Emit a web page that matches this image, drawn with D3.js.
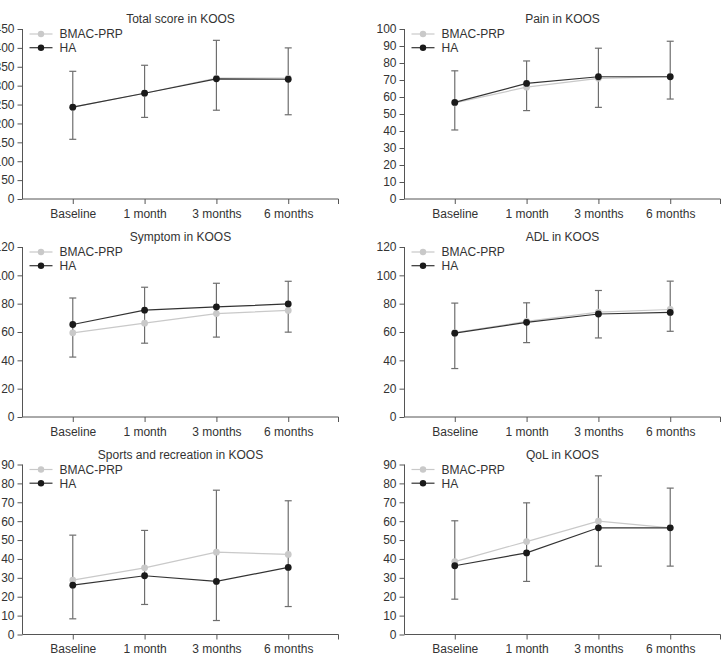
<!DOCTYPE html>
<html><head><meta charset="utf-8">
<script src="https://cdn.jsdelivr.net/npm/d3@7"></script>
<style>
html,body{margin:0;padding:0;background:#fff;}
svg{display:block;font-family:"Liberation Sans",Arial,sans-serif;}
</style></head>
<body>
<svg id="chart" width="726" height="655"></svg>
<script>
const categories = ["Baseline", "1 month", "3 months", "6 months"];
const seriesNames = ["BMAC-PRP", "HA"];
const titles = ["Total score in KOOS", "Pain in KOOS", "Symptom in KOOS", "ADL in KOOS", "Sports and recreation in KOOS", "QoL in KOOS"];
const yMax = [450, 100, 120, 120, 90, 90];
const yStep = [50, 10, 20, 20, 10, 10];

const bmacValues = [
  [243, 280, 320, 320],
  [56.5, 65.8, 71, 72],
  [59.4, 66.2, 73, 75.2],
  [59.5, 67.5, 74, 75.9],
  [28.8, 35.3, 43.6, 42.4],
  [38.6, 49.2, 60, 56.5]
];
const haValues = [
  [243, 280, 318, 317],
  [56.8, 68, 71.9, 71.9],
  [65.3, 75.4, 77.7, 79.8],
  [59.2, 66.8, 72.7, 73.8],
  [26.1, 31.1, 28.1, 35.5],
  [36.4, 43.2, 56.5, 56.5]
];
const errHigh = [
  [338, 354, 420, 400],
  [75.4, 81.2, 88.7, 92.8],
  [84, 91.6, 94.4, 95.8],
  [80.4, 80.6, 89.3, 95.9],
  [52.6, 55.1, 76.4, 70.8],
  [60.2, 69.7, 84, 77.5]
];
const errLow = [
  [158, 216, 235, 223],
  [40.6, 52, 53.9, 58.8],
  [42.3, 52.1, 56.4, 59.9],
  [34.2, 52.5, 55.8, 60.5],
  [8.3, 15.9, 7.4, 14.8],
  [18.7, 28.1, 36.2, 36.2]
];

const svg = d3.select("#chart");
const W = 316, H = 170;
const colX = [22.5, 404.5];
const rowY = [29, 247, 464.5];
const axisColor = "#555";
const textColor = "#333";
const lightColor = "#c9c9c9";
const darkColor = "#1a1a1a";
const errColor = "#6e6e6e";

titles.forEach((title, i) => {
  const ox = colX[i % 2], oy = rowY[Math.floor(i / 2)];
  const g = svg.append("g").attr("transform", `translate(${ox},${oy})`);
  const x = d3.scalePoint().domain(categories).range([0, W]).padding(0.7);
  const y = d3.scaleLinear().domain([0, yMax[i]]).range([H, 0]);
  const ticks = d3.range(0, yMax[i] + 0.001, yStep[i]);

  // y axis
  const ya = g.append("g").call(d3.axisLeft(y).tickValues(ticks).tickSize(5).tickPadding(3).tickFormat(d3.format("d")));
  ya.select(".domain").attr("stroke", axisColor).attr("d", `M0,${H}V0`);
  ya.selectAll(".tick line").attr("stroke", axisColor);
  ya.selectAll("text").attr("fill", textColor).style("font-size", "12px").style("font-family", "'Liberation Sans',Arial,sans-serif");

  // x axis
  const xa = g.append("g").attr("transform", `translate(0,${H})`)
    .call(d3.axisBottom(x).tickSize(5).tickPadding(5));
  xa.select(".domain").attr("stroke", axisColor).attr("d", `M0,0H${W}V5`);
  xa.selectAll(".tick line").attr("stroke", axisColor);
  xa.selectAll("text").attr("fill", textColor).style("font-size", "12px").style("font-family", "'Liberation Sans',Arial,sans-serif");

  // title
  g.append("text").attr("x", W / 2).attr("y", -6).attr("text-anchor", "middle")
    .attr("fill", textColor).style("font-size", "12px").text(title);

  // error bars
  const eb = g.append("g").attr("stroke", errColor).attr("stroke-width", 1.2);
  categories.forEach((c, j) => {
    const cx = x(c);
    eb.append("line").attr("x1", cx).attr("x2", cx).attr("y1", y(errLow[i][j])).attr("y2", y(errHigh[i][j]));
    eb.append("line").attr("x1", cx - 3.5).attr("x2", cx + 3.5).attr("y1", y(errLow[i][j])).attr("y2", y(errLow[i][j]));
    eb.append("line").attr("x1", cx - 3.5).attr("x2", cx + 3.5).attr("y1", y(errHigh[i][j])).attr("y2", y(errHigh[i][j]));
  });

  const line = d3.line().x((d, j) => x(categories[j])).y(d => y(d));
  const series = [
    {vals: bmacValues[i], color: lightColor},
    {vals: haValues[i], color: darkColor}
  ];
  series.forEach(s => {
    g.append("path").attr("d", line(s.vals)).attr("fill", "none")
      .attr("stroke", s.color === darkColor ? "#333" : s.color).attr("stroke-width", 1.2);
    g.selectAll(null).data(s.vals).enter().append("circle")
      .attr("cx", (d, j) => x(categories[j])).attr("cy", d => y(d)).attr("r", 3.4).attr("fill", s.color);
  });

  // legend
  const lg = g.append("g");
  seriesNames.forEach((name, k) => {
    const ly = 5 + k * 13.7;
    const col = k === 0 ? lightColor : darkColor;
    lg.append("line").attr("x1", 7).attr("x2", 30).attr("y1", ly).attr("y2", ly)
      .attr("stroke", k === 0 ? lightColor : "#333").attr("stroke-width", 1.2);
    lg.append("circle").attr("cx", 18.5).attr("cy", ly).attr("r", 3.2).attr("fill", col);
    lg.append("text").attr("x", 37).attr("y", ly + 4.3).attr("fill", textColor)
      .style("font-size", "12px").text(name);
  });
});
</script>
</body></html>
